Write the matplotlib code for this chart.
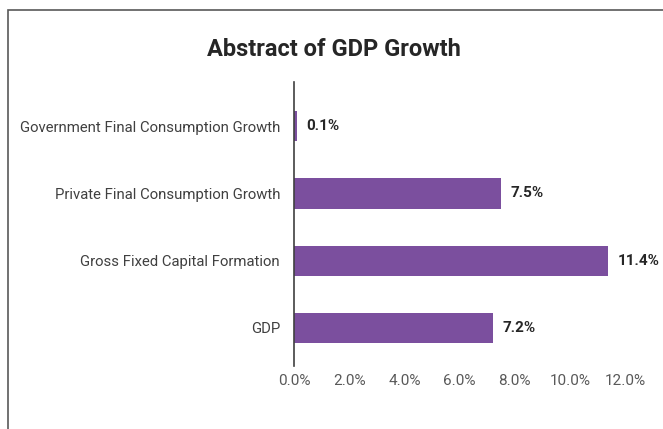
import matplotlib
matplotlib.use('Agg')
import matplotlib.pyplot as plt
from matplotlib.patches import Rectangle

categories = ['Government Final Consumption Growth', 'Private Final Consumption Growth',
              'Gross Fixed Capital Formation', 'GDP']
values = [0.1, 7.5, 11.4, 7.2]
value_labels = ['0.1%', '7.5%', '11.4%', '7.2%']
xticks = [0, 2, 4, 6, 8, 10, 12]
xtick_labels = ['0.0%', '2.0%', '4.0%', '6.0%', '8.0%', '10.0%', '12.0%']

plt.rcParams['font.family'] = ['Roboto', 'DejaVu Sans']

W, H = 663, 429
fig = plt.figure(figsize=(W / 100, H / 100), dpi=100)
ax = fig.add_axes([294 / W, 1 - 366 / H, 331 / W, 284 / H])

# outer frame (only top and left edges visible in the picture)
fig.patches.append(Rectangle((8 / W, -0.1), 1.2, 1 - 10 / H + 0.1, transform=fig.transFigure,
                             fill=False, edgecolor='#595959', linewidth=1.2))

ypos = list(range(len(categories)))
ax.barh(ypos, values, height=0.45, color='#7B4F9E')
for y, v, lab in zip(ypos, values, value_labels):
    ax.annotate(lab, (v, y), xytext=(7, 0), textcoords='offset points', va='center', ha='left',
                fontsize=11, fontweight='bold', color='#262626')

ax.set_ylim(3.567, -0.657)
ax.set_xlim(0, 12)
ax.set_yticks(ypos)
ax.set_yticklabels(categories, fontsize=10.7, color='#404040')
ax.set_xticks(xticks)
ax.set_xticklabels(xtick_labels, fontsize=11, color='#595959')
ax.tick_params(axis='y', length=0, pad=10)
ax.tick_params(axis='x', length=0, pad=6)
for s in ['top', 'right', 'bottom']:
    ax.spines[s].set_visible(False)
ax.spines['left'].set_color('#404040')
ax.spines['left'].set_linewidth(1.2)

fig.text(334 / W, 1 - 49 / H, 'Abstract of GDP Growth', ha='center', va='center',
         fontsize=17, fontweight='bold', color='#262626')

fig.savefig('out.png', dpi=100)
